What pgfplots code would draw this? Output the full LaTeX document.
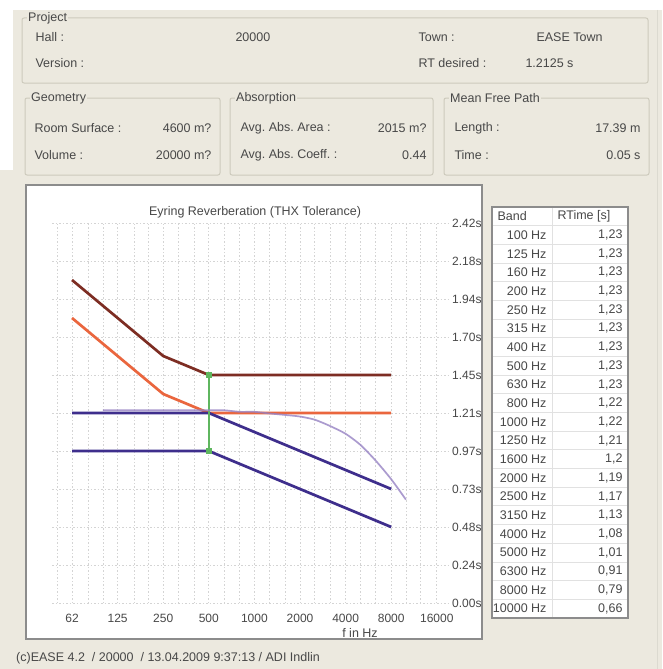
\documentclass[border=0pt]{standalone}
\usepackage{pgfplots}
\pgfplotsset{compat=1.18}
\usepackage{pgfplotstable}
\usepackage{fontspec}
\setmainfont{Liberation Sans}
\frenchspacing

\definecolor{uibg}{RGB}{236,233,223}
\definecolor{uitext}{RGB}{72,72,72}
\definecolor{etch}{RGB}{205,202,188}
\definecolor{panelborder}{RGB}{140,140,140}
\definecolor{cellline}{RGB}{225,225,225}
\definecolor{tolup}{RGB}{125,45,35}
\definecolor{nominal}{RGB}{234,102,62}
\definecolor{tollow}{RGB}{62,46,140}
\definecolor{measured}{RGB}{150,130,195}
\definecolor{marker}{RGB}{95,182,95}
\definecolor{gridc}{RGB}{212,212,212}

% measured Eyring reverberation time per third-octave band
\pgfplotstableread{
f     rt
100   1.23
125   1.23
160   1.23
200   1.23
250   1.23
315   1.23
400   1.23
500   1.23
630   1.23
800   1.22
1000  1.22
1250  1.21
1600  1.20
2000  1.19
2500  1.17
3150  1.13
4000  1.08
5000  1.01
6300  0.91
8000  0.79
10000 0.66
}\measuredrt

\newcommand{\groupbox}[5]{%
  \draw[etch, line width=1pt, rounded corners=2pt] (#1,-#2) rectangle (#3,-#4);
  \node[anchor=west, fill=uibg, inner sep=1pt] at (#1+5,-#2) {#5};
}

\begin{document}
\begin{tikzpicture}[x=1pt, y=1pt, font=\fontsize{12.5}{14}\selectfont, text=uitext]
\useasboundingbox (0,0) rectangle (662,-669);
\fill[uibg] (0,0) rectangle (662,-669);
\fill[white] (0,0) rectangle (662,-10);
\fill[white] (0,0) rectangle (13,-170);
\draw[etch!70, line width=0.8pt] (657,-10) -- (657,-669);

% ---- project header ----
\groupbox{22}{18}{648}{83}{Project}
\node[anchor=west] at (32,-37) {Hall :};
\node[anchor=west] at (232,-37) {20000};
\node[anchor=west] at (415,-37) {Town :};
\node[anchor=west] at (533,-37) {EASE Town};
\node[anchor=west] at (32,-63) {Version :};
\node[anchor=west] at (415,-63) {RT desired :};
\node[anchor=west] at (522,-63) {1.2125 s};

\groupbox{25}{98}{220}{175}{Geometry}
\node[anchor=west] at (31,-128) {Room Surface :};
\node[anchor=east] at (215,-128) {4600 m?};
\node[anchor=west] at (31,-155) {Volume :};
\node[anchor=east] at (215,-155) {20000 m?};

\groupbox{230}{98}{433}{175}{Absorption}
\node[anchor=west] at (237,-128) {Avg. Abs. Area :};
\node[anchor=east] at (430,-128) {2015 m?};
\node[anchor=west] at (237,-155) {Avg. Abs. Coeff. :};
\node[anchor=east] at (430,-155) {0.44};

\groupbox{444}{98}{649}{175}{Mean Free Path}
\node[anchor=west] at (451,-128) {Length :};
\node[anchor=east] at (644,-128) {17.39 m};
\node[anchor=west] at (451,-155) {Time :};
\node[anchor=east] at (644,-155) {0.05 s};

% ---- chart panel ----
\fill[white] (26,-185) rectangle (482,-639);
\begin{scope}
\clip (26,-185) rectangle (482,-639);
\begin{axis}[
  at={(52pt,-603pt)}, anchor=south west,
  scale only axis, width=398pt, height=380pt,
  xmode=log,
  xmin=46.1, xmax=19560, ymin=0, ymax=2.425,
  axis line style={draw=none},
  tick style={draw=none},
  xtick={62.5,125,250,500,1000,2000,4000,8000,16000},
  xticklabels={62,125,250,500,1000,2000,4000,8000,16000},
  minor xtick={50,80,100,160,200,315,400,630,800,1250,1600,2500,3150,5000,6300,10000,12500},
  ytick={0,0.2425,0.485,0.7275,0.97,1.2125,1.455,1.6975,1.94,2.1825,2.425},
  yticklabels={0.00s,0.24s,0.48s,0.73s,0.97s,1.21s,1.45s,1.70s,1.94s,2.18s,2.42s},
  yticklabel pos=right,
  xticklabel style={anchor=center, yshift=-15pt, inner sep=0pt, text=uitext, font=\fontsize{12}{14}\selectfont},
  yticklabel style={anchor=west, xshift=2pt, inner sep=0pt, text=uitext, font=\fontsize{12}{14}\selectfont},
  xmajorgrids, xminorgrids, ymajorgrids,
  major grid style={gridc, line width=0.7pt, dash pattern=on 1.5pt off 2pt},
  minor grid style={gridc, line width=0.7pt, dash pattern=on 1.5pt off 2pt},
  clip=false,
]
% THX tolerance band
\addplot[tolup, line width=2.7pt] coordinates {(62.5,2.06125) (250,1.57625) (500,1.455) (8000,1.455)};
\addplot[nominal, line width=2.7pt] coordinates {(62.5,1.81875) (250,1.33375) (500,1.2125) (8000,1.2125)};
\addplot[tollow, line width=2.7pt] coordinates {(62.5,1.2125) (500,1.2125) (8000,0.7275)};
\addplot[tollow, line width=2.7pt] coordinates {(62.5,0.97) (500,0.97) (8000,0.485)};
% 500 Hz tolerance marker
\addplot[marker, line width=2.4pt, mark=square*, mark size=1.8pt, mark options={marker}] coordinates {(500,0.97) (500,1.455)};
% measured RT
\addplot[measured, line width=1.7pt, opacity=0.8, smooth, tension=0.4] table[x=f, y=rt] {\measuredrt};
\end{axis}
\end{scope}
\draw[panelborder, line width=1.2pt] (26,-185) rectangle (482,-639);
\node at (255,-212) {Eyring Reverberation (THX Tolerance)};
\node at (360,-633) {f in Hz};

% ---- band table ----
\fill[white] (492,-207) rectangle (628,-618);
\foreach \i in {1,...,21} {
  \draw[cellline, line width=0.8pt] (492,{-207-18.68*\i}) -- (628,{-207-18.68*\i});
}
\draw[cellline, line width=0.8pt] (552,-207) -- (552,-618);
\draw[panelborder, line width=1.2pt] (492,-207) rectangle (628,-618);
\node[anchor=west] at (494,{-207-18.68*0.5}) {Band};
\node[anchor=west] at (554,{-207-18.68*0.5}) {RTime [s]};
\foreach \i/\f/\u/\d in {1/100/1/23, 2/125/1/23, 3/160/1/23, 4/200/1/23, 5/250/1/23,
  6/315/1/23, 7/400/1/23, 8/500/1/23, 9/630/1/23, 10/800/1/22, 11/1000/1/22,
  12/1250/1/21, 13/1600/1/2, 14/2000/1/19, 15/2500/1/17, 16/3150/1/13,
  17/4000/1/08, 18/5000/1/01, 19/6300/0/91, 20/8000/0/79, 21/10000/0/66} {
  \node[anchor=east] at (550,{-207-18.68*(\i+0.5)}) {\f\ Hz};
  \node[anchor=east] at (626,{-207-18.68*(\i+0.5)}) {\u,\d};
}

% ---- footer ----
\node[anchor=west, inner sep=0pt] at (16,-658) {(c)EASE 4.2 \ / 20000 \ / 13.04.2009 9:37:13 / ADI Indlin};
\end{tikzpicture}
\end{document}
